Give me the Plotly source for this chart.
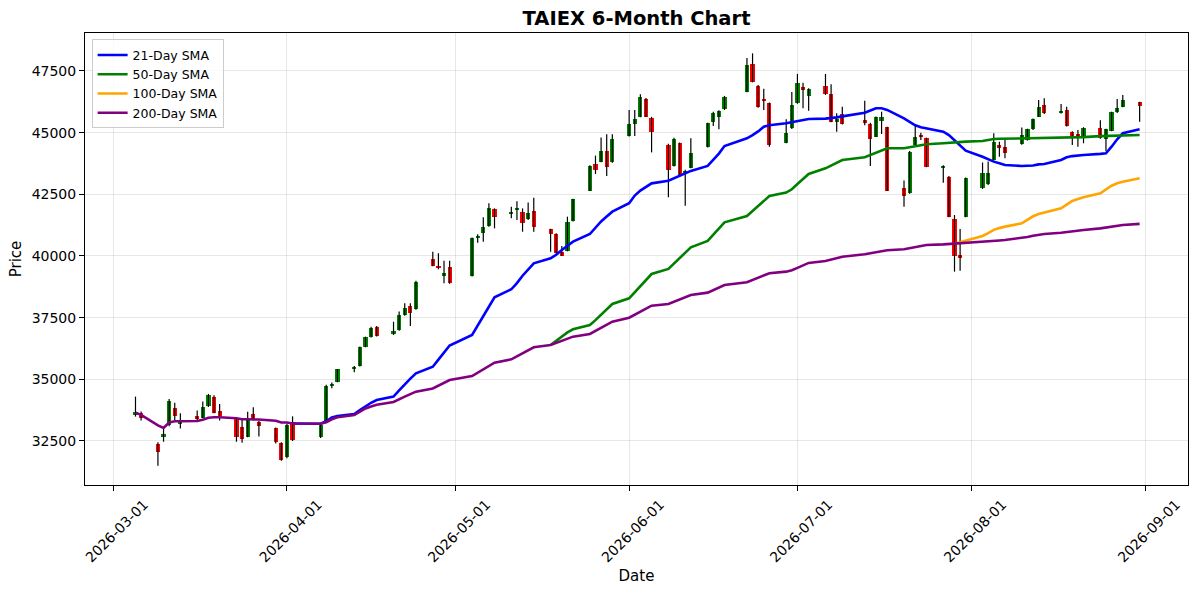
import plotly.graph_objects as go

# trading days shown on the chart
dates = [
    "2026-03-05", "2026-03-06", "2026-03-09", "2026-03-10", "2026-03-11", "2026-03-12", "2026-03-13",
    "2026-03-16", "2026-03-17", "2026-03-18", "2026-03-19", "2026-03-20", "2026-03-23", "2026-03-24",
    "2026-03-25", "2026-03-26", "2026-03-27", "2026-03-30", "2026-03-31",
    "2026-04-01", "2026-04-02", "2026-04-07", "2026-04-08", "2026-04-09", "2026-04-10", "2026-04-13",
    "2026-04-14", "2026-04-15", "2026-04-16", "2026-04-17", "2026-04-20", "2026-04-21", "2026-04-22",
    "2026-04-23", "2026-04-24", "2026-04-27", "2026-04-28", "2026-04-29", "2026-04-30",
    "2026-05-04", "2026-05-05", "2026-05-06", "2026-05-07", "2026-05-08", "2026-05-11", "2026-05-12",
    "2026-05-13", "2026-05-14", "2026-05-15", "2026-05-18", "2026-05-19", "2026-05-20", "2026-05-21",
    "2026-05-22", "2026-05-25", "2026-05-26", "2026-05-27", "2026-05-28", "2026-05-29",
    "2026-06-01", "2026-06-02", "2026-06-03", "2026-06-04", "2026-06-05", "2026-06-08", "2026-06-09",
    "2026-06-10", "2026-06-11", "2026-06-12", "2026-06-15", "2026-06-16", "2026-06-17", "2026-06-18",
    "2026-06-22", "2026-06-23", "2026-06-24", "2026-06-25", "2026-06-26", "2026-06-29", "2026-06-30",
    "2026-07-01", "2026-07-02", "2026-07-03", "2026-07-06", "2026-07-07", "2026-07-08", "2026-07-09",
    "2026-07-13", "2026-07-14", "2026-07-15", "2026-07-16", "2026-07-17", "2026-07-20", "2026-07-21",
    "2026-07-22", "2026-07-23", "2026-07-24", "2026-07-27", "2026-07-28", "2026-07-29", "2026-07-30",
    "2026-07-31",
    "2026-08-03", "2026-08-04", "2026-08-05", "2026-08-06", "2026-08-07", "2026-08-10", "2026-08-11",
    "2026-08-12", "2026-08-13", "2026-08-14", "2026-08-17", "2026-08-18", "2026-08-19", "2026-08-20",
    "2026-08-21", "2026-08-24", "2026-08-25", "2026-08-26", "2026-08-27", "2026-08-28", "2026-08-31",
]

opens = [
    33560, 33620, 32380, 32680, 33150, 33830, 33200, 33520, 33450, 33920, 34300, 33730, 33380, 33080,
    32680, 33600, 33290, 33010, 32430,
    31870, 33250, 32650, 33280, 34720, 34900, 35450, 35540, 36325, 36730, 37135, 36825, 36990, 37600,
    37970, 37840, 39880, 39600, 39190, 39570,
    39190, 40740, 40945, 41215, 41890, 41700, 41880, 41800, 41490, 41825, 41080, 40890, 40175, 40215,
    41420, 42650, 43730, 43825, 44260, 43800,
    44865, 45350, 45650, 46365, 45610, 44500, 43650, 44590, 43400, 43580, 44430, 45445, 45650, 45950,
    46660, 47785, 46905, 46360, 46190, 44595, 45175,
    46190, 46840, 46500, 46890, 46555, 45445, 45760, 45515, 45350, 44840, 45485, 45215, 42750, 42540,
    44500, 44900, 44770, 43580, 43215, 41490, 40040, 41595,
    42745, 42920, 43890, 44500, 44430, 44530, 44700, 45135, 45650, 46120, 45800, 45920, 45040, 44950,
    44840, 45205, 44730, 45080, 45825, 46055, 46230,
]

highs = [
    34300, 33700, 32450, 33080, 34200, 34050, 33620, 33740, 34100, 34410, 34350, 34000, 33420, 33380,
    33690, 33870, 33330, 33050, 32450,
    33200, 33500, 33200, 34780, 34870, 35420, 35540, 36330, 36730, 37130, 37160, 37335, 37745, 38080,
    38080, 39000, 40175, 40110, 39810, 39810,
    40750, 40880, 41570, 42140, 41930, 42000, 42220, 41930, 42170, 42360, 41100, 40920, 40400, 41595,
    42320, 43680, 44070, 44800, 44935, 44935,
    45920, 45920, 46560, 46400, 45640, 44550, 44790, 44600, 43500, 44770, 45400, 45850, 45910, 46490,
    48030, 48215, 46930, 46780, 46220, 45540, 46650,
    47380, 47025, 46800, 47380, 46960, 45785, 46055, 46295, 45400, 45650, 45850, 45240, 43060, 44260,
    45265, 45000, 44800, 43680, 43240, 41660, 41095, 43180,
    43790, 43830, 44975, 44635, 44730, 45205, 45160, 45570, 46325, 46395, 46160, 46050, 45060, 45110,
    45220, 45500, 45160, 45850, 46360, 46530, 46250,
]

lows = [
    33490, 33330, 31500, 32470, 33100, 33330, 33010, 33350, 33420, 33880, 33620, 33330, 32470, 32430,
    32650, 33330, 32680, 32400, 31700,
    31800, 32500, 32620, 33250, 34640, 34880, 35290, 35520, 36300, 36700, 36740, 36800, 36970, 37580,
    37160, 37820, 39580, 39460, 38890, 38870,
    39170, 40540, 40580, 41190, 41120, 41530, 41460, 40985, 41460, 40985, 40175, 40100, 40000, 40190,
    41400, 42630, 43325, 43800, 43245, 43780,
    44840, 44865, 45620, 45630, 44200, 42380, 43630, 43200, 42040, 43560, 44400, 45270, 45135, 45920,
    46640, 47040, 46010, 45920, 44430, 44570, 45150,
    46170, 45985, 45890, 46530, 45420, 45040, 45330, 45300, 43650, 44820, 44945, 42630, 41995, 42520,
    44480, 44700, 43600, 42970, 41570, 39365, 39400, 41570,
    42720, 42880, 43870, 44025, 43960, 44510, 44680, 45110, 45630, 45760, 45780, 45250, 44500, 44430,
    44570, 44750, 44250, 45060, 45800, 46030, 45445,
]

closes = [
    33690, 33420, 32050, 32780, 34135, 33515, 33330, 33390, 33860, 34370, 33650, 33520, 32680, 32570,
    33380, 33390, 33090, 32470, 31730,
    33150, 32540, 33150, 34740, 34830, 35400, 35490, 36300, 36700, 37100, 36760, 36960, 37600, 37880,
    37700, 38960, 39600, 39545, 39325, 38890,
    40720, 40800, 41165, 41930, 41595, 41800, 41920, 41350, 41735, 41165, 40890, 40135, 40010, 41365,
    42295, 43650, 43485, 44260, 43600, 44730,
    45350, 45555, 46460, 45650, 45040, 43490, 44740, 43285, 43450, 44165, 45380, 45785, 45880, 46460,
    47745, 47065, 46030, 46290, 44500, 45000, 46120,
    47025, 46730, 46770, 46555, 45445, 45540, 45350, 45380, 44730, 45625, 45625, 42650, 42430, 44230,
    44810, 44830, 43620, 43620, 41595, 40000, 39905, 43150,
    43380, 43355, 44635, 44365, 44190, 44905, 45135, 45540, 46030, 45785, 45850, 45270, 44840, 44880,
    45205, 44770, 45135, 45825, 45990, 46325, 46095,
]

# moving averages
sma200 = [
    33650, 33560, 33130, 33030, 33250, 33300, 33300, 33310, 33360, 33440, 33460, 33460, 33420, 33380,
    33380, 33380, 33370, 33320, 33250,
    33250, 33210, 33200, 33260, 33380, 33460, 33550, 33700, 33820, 33900, 33970, 34080, 34200, 34300,
    34400, 34500, 34630, 34750, 34850, 34970,
    35135, 35270, 35400, 35540, 35675, 35810, 35930, 36050, 36180, 36300, 36390, 36480, 36560, 36650,
    36730, 36840, 36960, 37080, 37210, 37335,
    37500, 37620, 37740, 37860, 37985, 38055, 38150, 38240, 38330, 38420, 38515, 38620, 38720, 38825,
    38935, 39030, 39120, 39210, 39300, 39365, 39420,
    39520, 39620, 39720, 39800, 39860, 39920, 39970, 40070, 40110, 40150, 40190, 40230, 40270, 40320,
    40360, 40400, 40445, 40470, 40485, 40500, 40520, 40540,
    40555, 40580, 40610, 40630, 40650, 40720, 40770, 40820, 40860, 40890, 40945, 40980, 41010, 41040,
    41055, 41120, 41160, 41200, 41240, 41255, 41300,
]

sma21_start = 20  # index of 2026-04-02, where the 21-day line leaves the others
sma21 = [
    33210, 33200, 33300, 33450, 33515, 33595, 33750, 33900, 34050, 34160, 34300, 34550, 34800,
    35030, 35245, 35510, 35800, 36100, 36370,
    36800, 37180, 37560, 37940, 38325, 38650, 38900, 39200, 39450, 39705, 39905, 40050, 40245, 40420,
    40580, 40890, 41150, 41400, 41600, 41795,
    42140, 42450, 42650, 42800, 42945, 43050, 43150, 43250, 43350, 43450, 43650, 43900, 44150, 44460,
    44770, 44900, 45050, 45240, 45300, 45380, 45420,
    45470, 45520, 45555, 45570, 45580, 45620, 45660, 45810, 45900, 45990, 45990, 45920, 45580, 45450,
    45300, 45220, 45175, 45040, 44900, 44700, 44485, 44270,
    44025, 43920, 43825, 43760, 43690, 43650, 43650, 43670, 43715, 43730, 43890, 44000, 44050, 44080,
    44095, 44140, 44165, 44430, 44730, 44975, 45135,
]

sma50_start = 49  # 2026-05-18
sma50 = [
    36390, 36560, 36750, 36900, 37030, 37200, 37400, 37620, 37840, 38055,
    38285, 38530, 38755, 39000, 39270, 39475, 39700, 39920, 40140, 40350, 40610, 40860, 41110, 41365,
    41620, 41820, 42020, 42230, 42430, 42570, 42705,
    42920, 43120, 43325, 43555, 43660, 43780, 43890, 44000, 44090, 44180, 44270, 44365, 44365, 44400,
    44440, 44500, 44530, 44570, 44590, 44600, 44620, 44635,
    44660, 44700, 44745, 44750, 44755, 44770, 44770, 44775, 44780, 44785, 44790, 44800, 44810, 44815,
    44820, 44860, 44865, 44880, 44890, 44900, 44905,
]

sma100_start = 99  # 2026-07-29
sma100 = [
    40500, 40560, 40620,
    40810, 40930, 41060, 41130, 41190, 41325, 41470, 41610, 41700, 41755, 41935, 42080, 42230, 42310,
    42380, 42540, 42700, 42850, 42950, 43010, 43150,
]

month_ticks = ["2026-03-01", "2026-04-01", "2026-05-01", "2026-06-01", "2026-07-01", "2026-08-01", "2026-09-01"]
price_ticks = [32500, 35000, 37500, 40000, 42500, 45000, 47500]

fig = go.Figure()

# wicks
wick_x = []
wick_y = []
for d, lo, hi in zip(dates, lows, highs):
    wick_x += [d, d, None]
    wick_y += [lo, hi, None]
fig.add_trace(go.Scatter(
    x=wick_x, y=wick_y, mode="lines",
    line=dict(color="black", width=1.2),
    showlegend=False, hoverinfo="skip"
))

# bodies
body_base = [min(o, c) for o, c in zip(opens, closes)]
body_height = [abs(c - o) for o, c in zip(opens, closes)]
body_color = ["green" if c >= o else "red" for o, c in zip(opens, closes)]
fig.add_trace(go.Bar(
    x=dates, y=body_height, base=body_base,
    width=0.75 * 86400000,
    marker=dict(color=body_color, line=dict(width=0)),
    showlegend=False, hoverinfo="skip"
))

fig.add_trace(go.Scatter(
    x=dates[sma21_start:], y=sma21, mode="lines",
    line=dict(color="blue", width=2.6), name="21-Day SMA"
))
fig.add_trace(go.Scatter(
    x=dates[sma50_start:], y=sma50, mode="lines",
    line=dict(color="green", width=2.6), name="50-Day SMA"
))
fig.add_trace(go.Scatter(
    x=dates[sma100_start:], y=sma100, mode="lines",
    line=dict(color="orange", width=2.6), name="100-Day SMA"
))
fig.add_trace(go.Scatter(
    x=dates, y=sma200, mode="lines",
    line=dict(color="purple", width=2.6), name="200-Day SMA"
))

fig.update_layout(
    width=1200,
    height=594,
    template="simple_white",
    font=dict(family="DejaVu Sans", size=14, color="black"),
    title=dict(
        text="<b>TAIEX 6-Month Chart</b>",
        x=0.5, xref="paper", xanchor="center",
        y=0.969, yref="container", yanchor="middle",
        font=dict(size=19.5)
    ),
    margin=dict(l=85, r=12, t=33, b=109, autoexpand=False),
    plot_bgcolor="white",
    paper_bgcolor="white",
    bargap=0,
    showlegend=True,
    legend=dict(
        x=0.006, y=0.986, xanchor="left", yanchor="top",
        bgcolor="rgba(255,255,255,0.8)",
        bordercolor="#cccccc", borderwidth=1,
        font=dict(size=12.5),
        tracegroupgap=0, itemwidth=30
    ),
    hovermode=False,
)

fig.update_xaxes(
    type="date",
    automargin=False,
    range=["2026-02-24", "2026-09-08 15:00"],
    tickvals=month_ticks,
    ticktext=month_ticks,
    tickangle=-45,
    ticklabelshift=31,
    ticks="outside", ticklen=5, tickcolor="black",
    showline=True, linecolor="black", linewidth=1, mirror=True,
    showgrid=True, gridcolor="rgba(176,176,176,0.3)", gridwidth=1,
    title=dict(text="Date", font=dict(size=15), standoff=6),
    zeroline=False,
)

fig.update_yaxes(
    automargin=False,
    range=[30716, 49040],
    tickvals=price_ticks,
    ticktext=[str(p) for p in price_ticks],
    ticks="outside", ticklen=5, tickcolor="black",
    showline=True, linecolor="black", linewidth=1, mirror=True,
    showgrid=True, gridcolor="rgba(176,176,176,0.3)", gridwidth=1,
    title=dict(text="Price", font=dict(size=15), standoff=6),
    zeroline=False,
)

# the page body has a default 8px margin; drop it so the figure sits at 0,0
fig.write_html(
    "out.html",
    config={"displayModeBar": False},
    post_script="document.body.style.margin = '0px';"
)
